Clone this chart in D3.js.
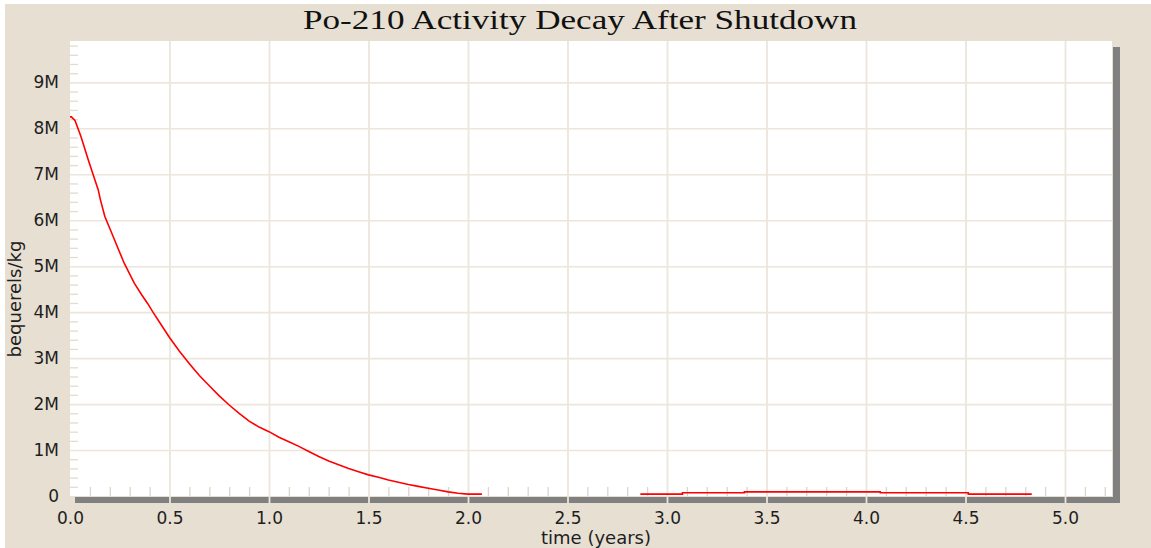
<!DOCTYPE html>
<html>
<head>
<meta charset="utf-8">
<script src="https://cdn.jsdelivr.net/npm/d3@7/dist/d3.min.js"></script>
<style>
  body { margin: 0; background: #ffffff; }
  svg { display: block; }
</style>
</head>
<body>
<div id="graph"></div>
<script>
const titleText = "Po-210 Activity Decay After Shutdown";
const xLabelText = "time (years)";
const yLabelText = "bequerels/kg";

const xTickValues = [0, 0.5, 1.0, 1.5, 2.0, 2.5, 3.0, 3.5, 4.0, 4.5, 5.0];
const xTickLabels = ["0.0", "0.5", "1.0", "1.5", "2.0", "2.5", "3.0", "3.5", "4.0", "4.5", "5.0"];
const yTickValues = [0, 1e6, 2e6, 3e6, 4e6, 5e6, 6e6, 7e6, 8e6, 9e6];
const yTickLabels = ["0", "1M", "2M", "3M", "4M", "5M", "6M", "7M", "8M", "9M"];

// decay after shutdown (years, Bq/kg)
const decayTimes = [0, 0.007, 0.025, 0.055, 0.092, 0.114, 0.142, 0.152, 0.175, 0.206, 0.24, 0.273, 0.323, 0.36,
                    0.390, 0.42, 0.45, 0.5, 0.55, 0.6, 0.65, 0.7, 0.75, 0.8, 0.85, 0.9, 0.95, 1.0, 1.05, 1.1,
                    1.15, 1.2, 1.25, 1.3, 1.35, 1.4, 1.45, 1.5, 1.55, 1.6, 1.65, 1.7, 1.75, 1.8, 1.85, 1.9,
                    1.95, 2.0, 2.07];
const decayValues = [8250000, 8250000, 8170000, 7820000, 7310000, 7020000, 6660000, 6460000, 6080000, 5760000,
                     5400000, 5060000, 4630000, 4380000, 4190000, 3980000, 3780000, 3450000, 3150000, 2880000,
                     2620000, 2400000, 2180000, 1980000, 1800000, 1630000, 1500000, 1400000, 1280000, 1180000,
                     1080000, 970000, 860000, 760000, 680000, 600000, 530000, 460000, 410000, 350000, 300000,
                     250000, 210000, 170000, 130000, 90000, 60000, 40000, 40000];

// low residual activity later on (stepped)
const residualTimes = [2.866, 3.078, 3.389, 4.072, 4.514, 4.833];
const residualValues = [40000, 70000, 90000, 70000, 40000, 40000];

const w = 1151;
const h = 548;
const plot_left = 70;
const plot_top = 41;
const plot_right = 1112;
const plot_bottom = 496;
const beige = '#e6dfd2';
const grid = '#ece6dc';

const svg = d3.select('#graph')
  .append('svg')
  .attr('width', w)
  .attr('height', h);

const xScale = d3.scaleLinear()
  .domain([0, 5])
  .range([plot_left, 1065]);
const yScale = d3.scaleLinear()
  .domain([0, 9.9e6])
  .range([plot_bottom, plot_top]);

//background
svg.append('rect')
  .attr('x', 5).attr('y', 4)
  .attr('width', w - 5).attr('height', h - 4)
  .attr('fill', beige);

//shadow
svg.append('rect')
  .attr('x', plot_right + 1).attr('y', plot_top + 6)
  .attr('width', 7).attr('height', plot_bottom - plot_top + 1)
  .attr('fill', '#808080');
svg.append('rect')
  .attr('x', plot_left + 5).attr('y', plot_bottom + 1)
  .attr('width', plot_right - plot_left + 3).attr('height', 6)
  .attr('fill', '#808080');

//plot area
svg.append('rect')
  .attr('x', plot_left).attr('y', plot_top)
  .attr('width', plot_right - plot_left).attr('height', plot_bottom - plot_top)
  .attr('fill', '#ffffff');

//horizontal grid
svg.append('g')
  .attr('transform', 'translate(' + plot_left + ',0)')
  .call(d3.axisLeft(yScale).tickValues(yTickValues.slice(1)).tickSize(-(plot_right - plot_left)).tickFormat(''))
  .call(g => g.select('.domain').remove())
  .call(g => g.selectAll('line').attr('stroke', grid).attr('stroke-width', 1.6));

//vertical grid (runs down over the shadow)
svg.append('g')
  .attr('transform', 'translate(0,' + (plot_bottom + 7) + ')')
  .call(d3.axisBottom(xScale).tickValues(xTickValues.slice(1)).tickSize(-(plot_bottom + 7 - plot_top)).tickFormat(''))
  .call(g => g.select('.domain').remove())
  .call(g => g.selectAll('line').attr('stroke', grid).attr('stroke-width', 1.8));

//minor ticks
const xMinor = d3.range(1, 53).map(d => d / 10).filter(d => Math.round(d * 10) % 5 !== 0);
svg.append('g')
  .attr('transform', 'translate(0,' + plot_bottom + ')')
  .call(d3.axisBottom(xScale).tickValues(xMinor).tickSize(-9).tickFormat(''))
  .call(g => g.select('.domain').remove())
  .call(g => g.selectAll('line').attr('stroke', '#dcd5ca').attr('stroke-width', 1.3));

const yMinor = d3.range(1, 50).map(d => d * 2e5).filter(d => Math.round(d / 2e5) % 5 !== 0);
svg.append('g')
  .attr('transform', 'translate(' + plot_left + ',0)')
  .call(d3.axisLeft(yScale).tickValues(yMinor).tickSize(-8).tickFormat(''))
  .call(g => g.select('.domain').remove())
  .call(g => g.selectAll('line').attr('stroke', '#e3dccf').attr('stroke-width', 1.3));

//x-Axis labels
svg.append('g')
  .attr('transform', 'translate(0,' + plot_bottom + ')')
  .call(d3.axisBottom(xScale).tickValues(xTickValues).tickSize(0).tickPadding(16)
    .tickFormat((d, i) => xTickLabels[i]))
  .call(g => g.select('.domain').remove())
  .call(g => g.selectAll('text')
    .attr('fill', '#1e1e1e')
    .style('font-family', '"DejaVu Sans", sans-serif')
    .style('font-size', '17px'));

//y-Axis labels
svg.append('g')
  .attr('transform', 'translate(' + plot_left + ',0)')
  .call(d3.axisLeft(yScale).tickValues(yTickValues).tickSize(0).tickPadding(11)
    .tickFormat((d, i) => yTickLabels[i]))
  .call(g => g.select('.domain').remove())
  .call(g => g.selectAll('text')
    .attr('fill', '#1e1e1e')
    .style('font-family', '"DejaVu Sans", sans-serif')
    .style('font-size', '17px'));

//lines
const line = d3.line()
  .x(d => xScale(d[0]))
  .y(d => yScale(d[1]));

svg.append('path')
  .datum(d3.zip(decayTimes, decayValues))
  .attr('d', line)
  .attr('fill', 'none')
  .attr('stroke', '#ff0000')
  .attr('stroke-width', 1.6);

svg.append('path')
  .datum(d3.zip(residualTimes, residualValues))
  .attr('d', line.curve(d3.curveStepAfter))
  .attr('fill', 'none')
  .attr('stroke', '#ff0000')
  .attr('stroke-width', 1.6);

//title
svg.append('text')
  .text(titleText)
  .attr('x', 303)
  .attr('y', 29)
  .attr('textLength', 554)
  .attr('lengthAdjust', 'spacingAndGlyphs')
  .attr('fill', '#111')
  .style('font-family', '"Liberation Serif", "Times New Roman", serif')
  .style('font-size', '28px');

//x-label
svg.append('text')
  .text(xLabelText)
  .attr('x', 596)
  .attr('y', 544)
  .attr('text-anchor', 'middle')
  .attr('fill', '#1e1e1e')
  .style('font-family', '"DejaVu Sans", sans-serif')
  .style('font-size', '18px');

//y-label
svg.append('text')
  .text(yLabelText)
  .attr('transform', 'translate(21,299) rotate(-90)')
  .attr('text-anchor', 'middle')
  .attr('fill', '#1e1e1e')
  .style('font-family', '"DejaVu Sans", sans-serif')
  .style('font-size', '18px');
</script>
</body>
</html>
